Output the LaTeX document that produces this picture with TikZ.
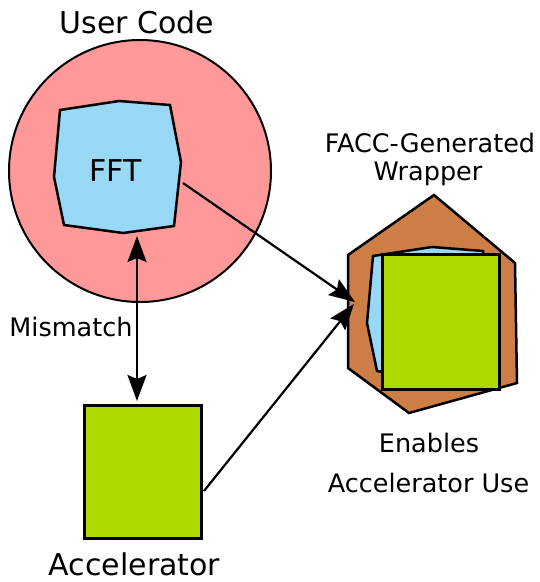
\documentclass[tikz,border=0pt]{standalone}
\usepackage{fontspec}
\setmainfont{DejaVu Sans}
\usetikzlibrary{arrows.meta}

\definecolor{codepink}{RGB}{255,153,153}
\definecolor{fftblue}{RGB}{153,216,244}
\definecolor{accgreen}{RGB}{173,217,0}
\definecolor{wrapbrown}{RGB}{205,126,71}

\tikzset{
  outline/.style={draw=black, line width=2.5pt, line join=miter},
  bigtext/.style={anchor=base, inner sep=0pt, font=\fontsize{30}{36}\selectfont},
  smalltext/.style={anchor=base, inner sep=0pt, font=\fontsize{25.5}{30}\selectfont},
  tip/.style={Stealth[length=26pt, width=19pt, inset=4pt]},
  link/.style={draw=black, line width=2.2pt, -{Stealth[length=26pt, width=19pt, inset=4pt]}},
  biglink/.style={draw=black, line width=2.2pt, {Stealth[length=26pt, width=19pt, inset=4pt]}-{Stealth[length=26pt, width=19pt, inset=4pt]}},
}

\begin{document}
\begin{tikzpicture}[x=1pt, y=-1pt]
  \useasboundingbox (0,0) rectangle (540,582);

  % user code: circle holding the FFT kernel
  \node[draw=black, line width=2pt, fill=codepink, circle, minimum size=262pt, inner sep=0pt] (user) at (140,171) {};
  \draw[outline, fill=fftblue]
    (60,110) -- (119,101) -- (170,105) -- (181,162) -- (174,226)
    -- (123,233) -- (64,225) -- (54,177) -- cycle;
  \node[bigtext] (fft) at (115.5,181.5) {FFT};
  \node[bigtext] (usertitle) at (137,33) {User Code};

  % wrapper: hexagon around the FFT and the accelerator
  \draw[outline, fill=wrapbrown]
    (434,195) -- (515,263) -- (517,383) -- (409,413) -- (348,368) -- (348,255) -- cycle;
  \draw[outline, fill=fftblue]
    (373,256) -- (432,247) -- (483,251) -- (494,308) -- (487,372)
    -- (436,379) -- (377,371) -- (367,323) -- cycle;
  \node[outline, fill=accgreen, minimum width=117pt, minimum height=135pt, inner sep=0pt, anchor=north west] (wrapped) at (381,253) {};
  \node[smalltext] (facc) at (430,152) {FACC-Generated};
  \node[smalltext] (wrapper) at (428,180) {Wrapper};
  \node[smalltext] (enables) at (429,452) {Enables};
  \node[smalltext] (accuse) at (428.5,492) {Accelerator Use};

  % accelerator box
  \node[outline, fill=accgreen, minimum width=117pt, minimum height=133pt, inner sep=0pt, anchor=north west] (accel) at (83,404) {};
  \node[bigtext] (acceltitle) at (134.5,575.5) {Accelerator};

  % connectors
  \coordinate (fftout) at (183,183);
  \coordinate (fftbottom) at (137,236);
  \coordinate (acceltop) at (137,401);
  \coordinate (accelout) at (204,491);
  \coordinate (wrapin) at (355,302);
  \coordinate (wrapin2) at (354,304);

  \draw[biglink] (fftbottom) -- (acceltop);
  \draw[link] (fftout) -- (wrapin);
  \draw[link] (accelout) -- (wrapin2);
  \node[smalltext] (mismatch) at (71,336) {Mismatch};
\end{tikzpicture}
\end{document}
